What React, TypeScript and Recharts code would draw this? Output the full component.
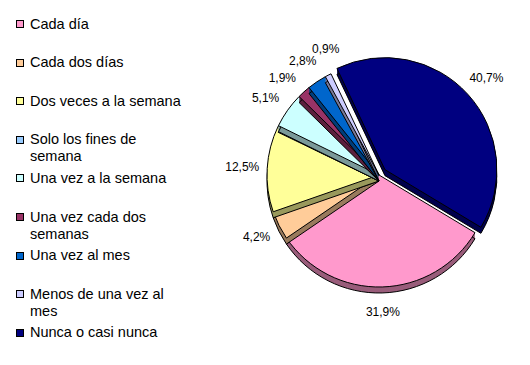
import { PieChart, Pie, Cell } from "recharts"

const categories = [
  "Cada día",
  "Cada dos días",
  "Dos veces a la semana",
  "Solo los fines de semana",
  "Una vez a la semana",
  "Una vez cada dos semanas",
  "Una vez al mes",
  "Menos de una vez al mes",
  "Nunca o casi nunca",
]
const values = [31.9, 4.2, 12.5, 0.1, 5.1, 1.9, 2.8, 0.9, 40.7]
const showLabel = [true, true, true, false, true, true, true, true, true]
const colors = ["#FF99CC", "#FFCC99", "#FFFF99", "#99CCFF", "#CCFFFF", "#993366", "#0066CC", "#CCCCFF", "#000080"]
const explode = [0, 0, 0, 0, 0, 0, 0, 0, 8]

const data = categories.map((name, i) => ({ name, value: values[i] }))

const CX = 379
const CY = 175
const R = 112
const DEPTH = 6
// first slice starts at 121deg clockwise from 12 o'clock
const START = 121
const FONT = '"Liberation Sans", Arial, sans-serif'
const RADIAN = Math.PI / 180
const MIN_SEP = 11

const total = values.reduce((a, b) => a + b, 0)

// mid angle of every slice, clockwise from 12 o'clock
const mids = values.map((v, i) => {
  const before = values.slice(0, i).reduce((a, b) => a + b, 0)
  return START + ((before + v / 2) / total) * 360
})

const offsets = mids.map((m, i) => ({
  dx: Math.sin(m * RADIAN) * explode[i],
  dy: -Math.cos(m * RADIAN) * explode[i],
}))

// spread crowded labels apart a bit
const labelAngles = [...mids]
const shown = labelAngles.map((_, i) => i).filter((i) => showLabel[i])
for (let it = 0; it < 60; it++) {
  for (let k = 0; k < shown.length - 1; k++) {
    const a = shown[k]
    const b = shown[k + 1]
    const gap = labelAngles[b] - labelAngles[a]
    if (gap < MIN_SEP) {
      const push = (MIN_SEP - gap) / 2
      labelAngles[a] -= push
      labelAngles[b] += push
    }
  }
}

function shade(hex: string, k = 0.6) {
  const n = parseInt(hex.slice(1), 16)
  const r = Math.round(((n >> 16) & 255) * k)
  const g = Math.round(((n >> 8) & 255) * k)
  const b = Math.round((n & 255) * k)
  return `rgb(${r},${g},${b})`
}

const fmt = (v: number) => `${v.toFixed(1).replace(".", ",")}%`

function renderLabel(props: any) {
  const { outerRadius, index } = props
  if (!showLabel[index]) return null
  const cx = CX + offsets[index].dx
  const cy = CY + offsets[index].dy
  const rr = outerRadius + 25
  const t = labelAngles[index] * RADIAN
  const x = cx + rr * Math.sin(t)
  const y = cy - rr * Math.cos(t)
  return (
    <text x={x} y={y} textAnchor="middle" dominantBaseline="central" fontFamily={FONT} fontSize={12} fill="#000">
      {fmt(values[index])}
    </text>
  )
}

function slicePie(j: number, d: number, key: string) {
  const top = d === 0
  const fill = top ? colors[j] : shade(colors[j])
  const stroke = top || d === DEPTH ? "#000" : "none"
  return (
    <Pie
      key={key}
      data={data}
      dataKey="value"
      nameKey="name"
      cx={CX + offsets[j].dx}
      cy={CY + offsets[j].dy + d}
      outerRadius={R}
      startAngle={90 - START}
      endAngle={90 - START - 360}
      isAnimationActive={false}
      label={false}
      labelLine={false}
    >
      {data.map((_, i) => (
        <Cell
          key={i}
          fill={i === j ? fill : "none"}
          stroke={i === j ? stroke : "none"}
          strokeWidth={1}
        />
      ))}
    </Pie>
  )
}

const layers: any[] = []
data.forEach((_, j) => {
  for (let d = 1; d <= DEPTH; d++) layers.push(slicePie(j, d, `s${j}-${d}`))
  layers.push(slicePie(j, 0, `t${j}`))
})

export default function App() {
  return (
    <div style={{ position: "absolute", left: 0, top: 0, width: 530, height: 365, background: "#fff" }}>
      <PieChart width={530} height={365} margin={{ top: 0, right: 0, bottom: 0, left: 0 }}>
        {layers}
        <Pie
          data={data}
          dataKey="value"
          nameKey="name"
          cx={CX}
          cy={CY}
          outerRadius={R}
          startAngle={90 - START}
          endAngle={90 - START - 360}
          isAnimationActive={false}
          fill="none"
          stroke="none"
          label={renderLabel}
          labelLine={false}
        />
      </PieChart>
      <div style={{ position: "absolute", left: 0, top: 0, fontFamily: FONT, fontSize: 14.5, lineHeight: "17px", color: "#000" }}>
        {categories.map((c, i) => (
          <div key={c} style={{ position: "absolute", left: 16, top: 20 + i * 38.6 }}>
            <div
              style={{
                position: "absolute",
                left: 0,
                top: 0,
                width: 8,
                height: 8,
                boxSizing: "border-box",
                border: "1px solid #000",
                background: colors[i],
              }}
            />
            <div style={{ position: "absolute", left: 14, top: -4.5, width: 156 }}>{c}</div>
          </div>
        ))}
      </div>
    </div>
  )
}
